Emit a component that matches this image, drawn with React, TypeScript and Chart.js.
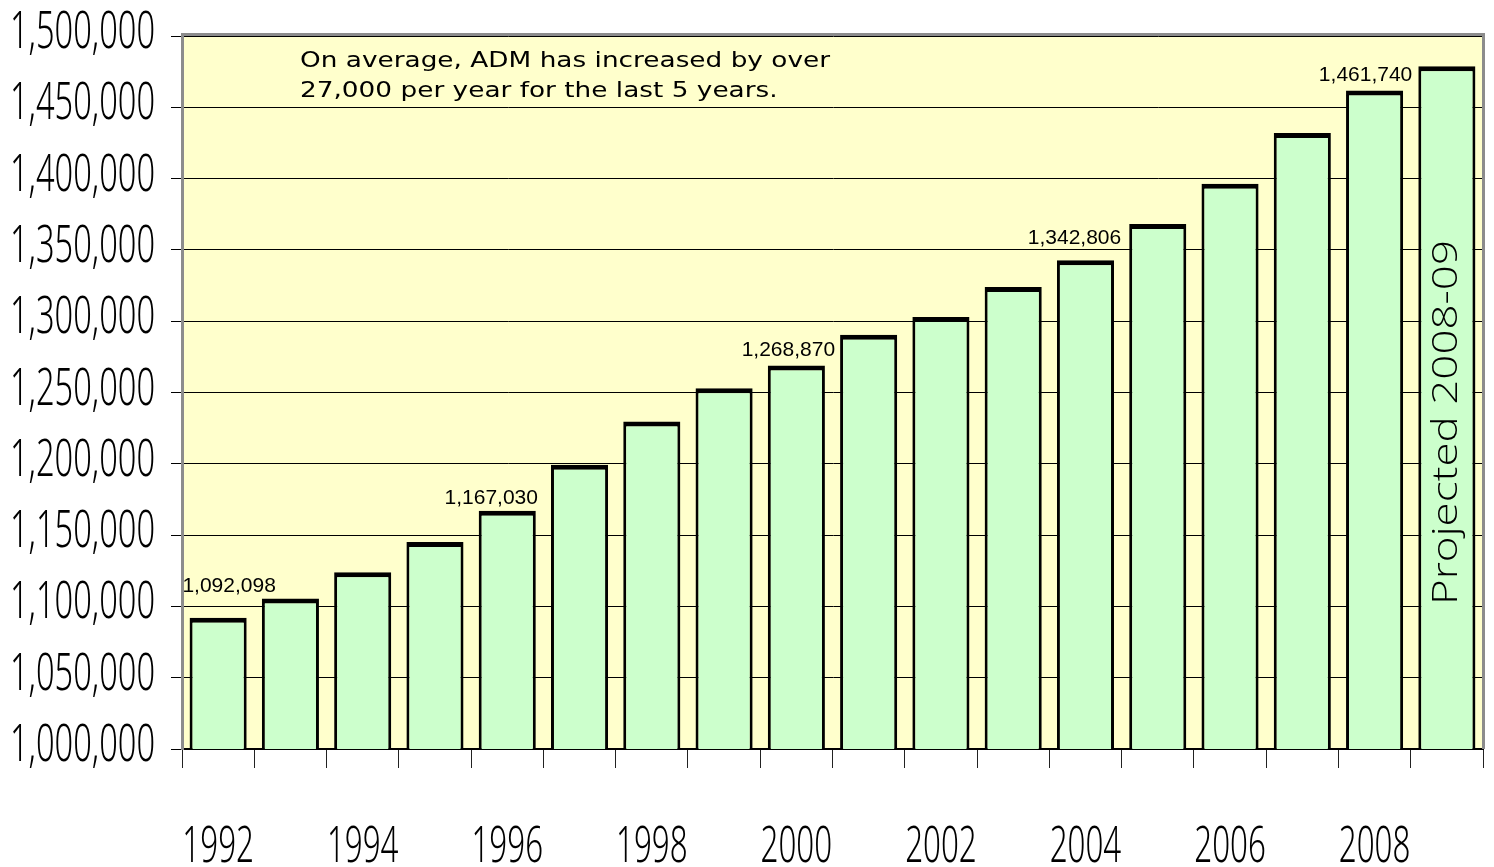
import { useEffect, useRef } from 'react';
import { Chart, registerables } from 'chart.js';

Chart.register(...registerables);

// ---- data ----
const years = [
  '1992', '1993', '1994', '1995', '1996', '1997', '1998', '1999', '2000',
  '2001', '2002', '2003', '2004', '2005', '2006', '2007', '2008', '2009',
];
const xTickLabels = [
  '1992', '', '1994', '', '1996', '', '1998', '', '2000',
  '', '2002', '', '2004', '', '2006', '', '2008', '',
];
const admValues = [
  1092098, 1105500, 1123900, 1145200, 1167030, 1199300, 1229600, 1253000, 1268870,
  1290500, 1302900, 1324000, 1342806, 1368100, 1396400, 1431900, 1461740, 1478800,
];
const labeledIndices = [0, 4, 8, 12, 16];
const yMin = 1000000;
const yMax = 1500000;
const yStep = 50000;
const noteLines = [
  'On average, ADM has increased by over',
  '27,000 per year for the last 5 years.',
];
const projectedLabel = 'Projected 2008-09';
const projectedIndex = 17;

// ---- styling (offsets of value labels relative to bar top) ----
const labelDx = [11, -16, -8, -11, -9];
const labelGap = [26, 7, 10, 16, 10];

const fmt = (v: number) => v.toLocaleString('en-US');

const setCondensed = (ctx: any, size: number) => {
  try {
    ctx.fontStretch = 'extra-condensed';
  } catch (e) {
    /* ignore */
  }
  ctx.font = `300 ${size}px 'Noto Sans', 'Roboto', 'Liberation Sans', sans-serif`;
};

const decor = {
  id: 'decor',
  beforeDraw(chart: any) {
    const { ctx, chartArea: a } = chart;
    ctx.save();
    ctx.fillStyle = '#ffffcc';
    ctx.fillRect(a.left, a.top, a.right - a.left, a.bottom - a.top);
    ctx.restore();
  },
  afterDraw(chart: any) {
    const { ctx, chartArea: a } = chart;
    const xs = chart.scales.x;
    const ys = chart.scales.y;
    ctx.save();

    // frame (top / right)
    ctx.strokeStyle = '#8c8c8c';
    ctx.lineWidth = 3;
    ctx.beginPath();
    ctx.moveTo(a.left - 1, a.top - 1.5);
    ctx.lineTo(a.right + 0.5, a.top - 1.5);
    ctx.lineTo(a.right + 0.5, a.bottom);
    ctx.stroke();

    // y tick labels (condensed)
    ctx.fillStyle = '#000';
    ctx.textBaseline = 'alphabetic';
    setCondensed(ctx, 52);
    const refW = ctx.measureText('1,500,000').width;
    const tsx = 145 / refW;
    ctx.textAlign = 'right';
    ys.ticks.forEach((t: any) => {
      const y = ys.getPixelForValue(t.value);
      ctx.save();
      ctx.translate(a.left - 27, y + 12);
      ctx.scale(tsx, 1);
      ctx.fillText(fmt(t.value), 0, 0);
      ctx.restore();
    });

    // x tick labels
    setCondensed(ctx, 50);
    ctx.textAlign = 'center';
    xTickLabels.forEach((lab, i) => {
      if (!lab) return;
      const x = xs.getPixelForValue(i);
      ctx.save();
      ctx.translate(x, a.bottom + 113);
      ctx.scale(tsx, 1);
      ctx.fillText(lab, 0, 0);
      ctx.restore();
    });
    try {
      ctx.fontStretch = 'normal';
    } catch (e) {
      /* ignore */
    }

    // value labels
    ctx.font = "21px 'Liberation Sans', Arial, sans-serif";
    ctx.textAlign = 'center';
    labeledIndices.forEach((idx, k) => {
      const x = xs.getPixelForValue(idx) + labelDx[k];
      const y = ys.getPixelForValue(admValues[idx]) - labelGap[k];
      ctx.fillText(fmt(admValues[idx]), x, y);
    });

    // note text
    ctx.font = "22px 'DejaVu Sans', sans-serif";
    ctx.textAlign = 'left';
    const w0 = ctx.measureText(noteLines[0]).width;
    const sx = 530 / w0;
    noteLines.forEach((line, i) => {
      ctx.save();
      ctx.translate(a.left + 118, a.top + 31 + i * 30);
      ctx.scale(sx, 1);
      ctx.fillText(line, 0, 0);
      ctx.restore();
    });

    // projected label (rotated)
    ctx.font = "300 35px 'Open Sans', 'DejaVu Sans', sans-serif";
    const pw = ctx.measureText(projectedLabel).width;
    ctx.save();
    ctx.translate(xs.getPixelForValue(projectedIndex) + 10, a.bottom - 144);
    ctx.rotate(-Math.PI / 2);
    ctx.scale(365 / pw, 1);
    ctx.textAlign = 'left';
    ctx.fillText(projectedLabel, 0, 0);
    ctx.restore();

    ctx.restore();
  },
};

export default function App() {
  const ref = useRef<HTMLCanvasElement | null>(null);

  useEffect(() => {
    if (!ref.current) return;
    const chart = new Chart(ref.current, {
      type: 'bar',
      data: {
        labels: years,
        datasets: [
          {
            data: admValues,
            backgroundColor: '#ccffcc',
            borderColor: '#000',
            borderWidth: { top: 5, left: 3, right: 3, bottom: 0 },
            borderSkipped: false,
            inflateAmount: 0,
            barPercentage: 0.79,
            categoryPercentage: 1,
          },
        ],
      },
      options: {
        animation: false,
        responsive: true,
        maintainAspectRatio: false,
        layout: { padding: { top: 36, right: 11, left: 0, bottom: 0 } },
        plugins: { legend: { display: false }, tooltip: { enabled: false } },
        scales: {
          x: {
            offset: true,
            grid: {
              offset: true,
              drawOnChartArea: false,
              drawTicks: true,
              tickLength: 19,
              color: '#222',
              lineWidth: 1,
            },
            border: { display: true, color: '#000', width: 2 },
            ticks: { display: false },
            afterFit: (s: any) => {
              s.height = 118;
            },
          },
          y: {
            min: yMin,
            max: yMax,
            ticks: { display: false, stepSize: yStep },
            grid: { color: '#000', lineWidth: 1, tickLength: 11, drawTicks: true },
            border: { display: true, color: '#8c8c8c', width: 3 },
            afterFit: (s: any) => {
              s.width = 182;
            },
          },
        },
      },
      plugins: [decor],
    });
    return () => chart.destroy();
  }, []);

  return (
    <div style={{ position: 'fixed', left: 0, top: 0, width: 1494, height: 867, background: '#fff' }}>
      <canvas ref={ref} />
    </div>
  );
}
